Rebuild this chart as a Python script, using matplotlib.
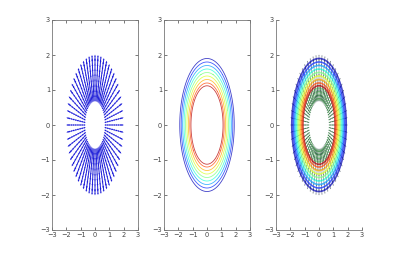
import numpy as np
import matplotlib
matplotlib.use("Agg")
import matplotlib.pyplot as plt

# values
angles_deg = list(range(0, 360, 6))            # ray directions of the arrows
arrow_radii = [0.68, 0.83, 0.98, 1.13, 1.28, 1.43, 1.58, 1.73, 1.83]   # arrow start radii
arrow_length = [0.18]                           # arrow length (data units)
contour_radii = [1.12, 1.2, 1.3, 1.4, 1.5, 1.6, 1.7, 1.8, 1.9]
inner_radii = [0.7, 0.8, 0.9, 1.0]              # green arrows in panel 3
ticks = [-3, -2, -1, 0, 1, 2, 3]

fig = plt.figure(figsize=(4.0, 2.59), dpi=100)
W, H = 400, 259
lefts = [52, 164, 276]
bottom_px, top_px = 230, 20
axw = 86

def make_ax(left, box=True):
    ax = fig.add_axes([left / W, (H - bottom_px) / H, axw / W, (bottom_px - top_px) / H])
    ax.set_xlim(-3, 3)
    ax.set_ylim(-3, 3)
    ax.set_xticks(ticks)
    ax.set_yticks(ticks)
    ax.tick_params(direction="in", length=2, width=0.5, labelsize=4.8,
                   colors="#444444", pad=1.5, top=box, right=box)
    for s in ax.spines.values():
        s.set_color("#777777")
        s.set_linewidth(0.6)
    if not box:
        ax.spines["top"].set_visible(False)
        ax.spines["right"].set_visible(False)
    return ax

th = np.deg2rad(np.array(angles_deg))
R, T = np.meshgrid(np.array(arrow_radii), th)
X = R * np.cos(T)
Y = R * np.sin(T)
L = arrow_length[0]
U = L * np.cos(T)
V = L * np.sin(T)

# panel 1: quiver
ax1 = make_ax(lefts[0])
ax1.quiver(X, Y, U, V, angles="xy", scale_units="xy", scale=1, color="#1a1ad8",
           width=0.011, headwidth=2.0, headlength=2.2, headaxislength=2.0)

# panel 2: contours
g = np.linspace(-3, 3, 401)
GX, GY = np.meshgrid(g, g)
Z = np.sqrt(GX ** 2 + GY ** 2)
cmap = plt.get_cmap("jet_r")
cols = [cmap(0.05 + 0.9 * i / (len(contour_radii) - 1)) for i in range(len(contour_radii))]
cols = [tuple(list(c[:3]) + [0.75]) for c in cols]
ax2 = make_ax(lefts[1])
ax2.contour(GX, GY, Z, levels=contour_radii, colors=cols, linewidths=0.6)

# panel 3: both
cols3 = [tuple(list(c[:3]) + [0.7]) for c in cols]
ax3 = make_ax(lefts[2], box=False)
ax3.contour(GX, GY, Z, levels=contour_radii, colors=cols3, linewidths=1.2)
Ri, Ti = np.meshgrid(np.array(inner_radii), th)
ax3.quiver(Ri * np.cos(Ti), Ri * np.sin(Ti), 0.1 * np.cos(Ti), 0.1 * np.sin(Ti),
           angles="xy", scale_units="xy", scale=1, color="#44bb44",
           width=0.008, headwidth=3, headlength=3, headaxislength=2.7, alpha=0.8)
ax3.quiver(X, Y, U, V, angles="xy", scale_units="xy", scale=1, color="#1a2a3a",
           width=0.006, headwidth=2.4, headlength=2.5, headaxislength=2.2, alpha=0.7)

fig.savefig("out.png", dpi=100)
